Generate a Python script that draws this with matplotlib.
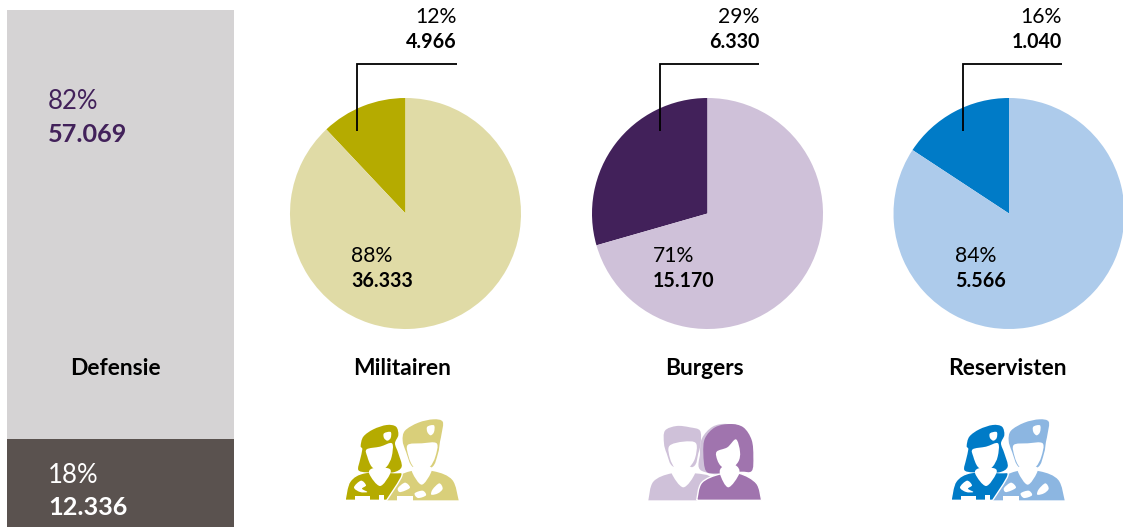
#!/usr/bin/env python3
import matplotlib
matplotlib.use("Agg")
import matplotlib.pyplot as plt
from matplotlib.path import Path
from matplotlib.patches import PathPatch, Rectangle

plt.rcParams['font.family'] = ['Lato', 'DejaVu Sans']

W, H = 1123, 527

# data
bar_values = [57069, 12336]
bar_pcts = ["82%", "18%"]
bar_label = "Defensie"

groups = ["Militairen", "Burgers", "Reservisten"]
outer_values = [4966, 6330, 1040]
inner_values = [36333, 15170, 5566]
outer_pcts = ["12%", "29%", "16%"]
inner_pcts = ["88%", "71%", "84%"]

outer_colors = ["#b5ab00", "#42215a", "#007bc7"]
inner_colors = ["#e0dba6", "#cfc1d9", "#adcbeb"]


def nl(v):
    return f"{v:,}".replace(",", ".")


def px_axes(fig, x0, y0, x1, y1):
    # axes placed with pixel coords, y counted from the top
    return fig.add_axes([x0 / W, 1 - y1 / H, (x1 - x0) / W, (y1 - y0) / H])


def blob(pts):
    # closed catmull-rom curve through the points, doubled points make a corner
    n = len(pts)
    verts = [pts[0]]
    codes = [Path.MOVETO]
    for i in range(n):
        p0, p1, p2, p3 = pts[i - 1], pts[i], pts[(i + 1) % n], pts[(i + 2) % n]
        if p1 == p2:
            continue
        c1 = (p1[0] + (p2[0] - p0[0]) / 6, p1[1] + (p2[1] - p0[1]) / 6)
        c2 = (p2[0] - (p3[0] - p1[0]) / 6, p2[1] - (p3[1] - p1[1]) / 6)
        verts += [c1, c2, p2]
        codes += [Path.CURVE4] * 3
    return Path(verts, codes)


def shape(ov, pts, color, ox, oy, z, edge="none"):
    # icon points are written in crop units, 3 units per pixel
    p = [(ox + a / 3, oy + b / 3) for a, b in pts]
    ov.add_patch(PathPatch(blob(p), fc=color, ec=edge, lw=1.0, zorder=z))


def box(ov, x, y, w, h, ox, oy):
    ov.add_patch(Rectangle((ox + x / 3, oy + y / 3), w / 3, h / 3, fc="white", ec="none", zorder=9))


def soldiers(ov, dark, light, ox, oy):
    # man at the back
    shape(ov, [(170, 271), (170, 271), (186, 214), (240, 184), (312, 184),
               (367, 210), (386, 271), (386, 271)], light, ox, oy, 3)
    shape(ov, [(218, 92), (225, 62), (265, 38), (310, 28), (338, 35), (335, 70), (330, 95),
               (324, 130), (305, 172), (250, 172), (228, 125)], light, ox, oy, 3)
    shape(ov, [(250, 170), (300, 170), (302, 190), (275, 224), (248, 190)], "white", ox, oy, 4)
    shape(ov, [(233, 105), (275, 100), (320, 100), (316, 140), (300, 170), (275, 183),
               (250, 170), (236, 140)], "white", ox, oy, 4)
    shape(ov, [(292, 50), (312, 46), (312, 66), (302, 76), (292, 66)], "white", ox, oy, 5)
    # woman in front
    shape(ov, [(45, 271), (45, 271), (60, 214), (105, 188), (190, 188), (216, 196),
               (170, 271), (170, 271)], dark, ox, oy, 6, edge="white")
    shape(ov, [(92, 108), (100, 80), (130, 58), (170, 45), (198, 50), (205, 75), (195, 100),
               (205, 130), (215, 170), (190, 187), (150, 185), (110, 187), (85, 180),
               (90, 150), (97, 118)], dark, ox, oy, 6)
    shape(ov, [(128, 175), (175, 175), (180, 192), (150, 228), (118, 192)], "white", ox, oy, 7)
    shape(ov, [(110, 118), (150, 110), (186, 100), (185, 140), (170, 170), (148, 182),
               (125, 170), (112, 140)], "white", ox, oy, 7)
    shape(ov, [(162, 70), (182, 66), (182, 84), (172, 92), (162, 84)], "white", ox, oy, 8)
    # badges and camouflage blotches
    box(ov, 75, 258, 45, 14, ox, oy)
    box(ov, 200, 258, 48, 14, ox, oy)
    box(ov, 148, 256, 14, 14, ox, oy)
    shape(ov, [(72, 232), (93, 212), (108, 226), (96, 236), (112, 246), (90, 246)], "white", ox, oy, 8)
    shape(ov, [(204, 234), (225, 218), (240, 232), (225, 242), (208, 246)], "white", ox, oy, 8)
    shape(ov, [(308, 238), (328, 220), (338, 236), (324, 250), (304, 254)], "white", ox, oy, 8)
    shape(ov, [(254, 250), (278, 242), (288, 256), (264, 264)], "white", ox, oy, 8)


def civilians(ov, dark, light, ox, oy):
    # man at the back
    shape(ov, [(25, 271), (25, 271), (40, 215), (95, 190), (165, 190), (215, 205),
               (215, 271), (215, 271)], light, ox, oy, 3)
    shape(ov, [(72, 100), (75, 62), (110, 48), (150, 52), (180, 62), (182, 100), (175, 130),
               (160, 170), (100, 170), (80, 130)], light, ox, oy, 3)
    shape(ov, [(105, 170), (150, 170), (165, 190), (130, 232), (95, 190)], "white", ox, oy, 4)
    shape(ov, [(88, 108), (130, 95), (168, 100), (165, 145), (145, 175), (125, 183),
               (105, 175), (90, 145)], "white", ox, oy, 4)
    # woman in front, with a light shadow on the left of her hair
    shape(ov, [(186, 183), (180, 130), (186, 85), (218, 50), (262, 42), (300, 60), (300, 185)],
          light, ox, oy, 5)
    shape(ov, [(170, 271), (170, 271), (185, 218), (240, 192), (298, 190), (350, 220),
               (365, 271), (365, 271)], dark, ox, oy, 6, edge="white")
    shape(ov, [(198, 183), (190, 130), (195, 85), (225, 52), (270, 42), (310, 52), (335, 90),
               (340, 140), (335, 183), (300, 185), (230, 190)], dark, ox, oy, 6)
    shape(ov, [(248, 170), (285, 165), (298, 190), (265, 232), (240, 192)], "white", ox, oy, 7)
    shape(ov, [(230, 125), (262, 112), (288, 88), (300, 125), (295, 155), (270, 178),
               (245, 170), (232, 150)], "white", ox, oy, 7)


fig = plt.figure(figsize=(W / 100, H / 100), dpi=100)

# stacked bar on the left, runs slightly past the bottom edge
ax_bar = px_axes(fig, 7, 10, 234, 532)
ax_bar.bar([0], [bar_values[1]], width=1, color="#5a524f")
ax_bar.bar([0], [bar_values[0]], width=1, bottom=[bar_values[1]], color="#d5d3d4")
ax_bar.set_xlim(-0.5, 0.5)
ax_bar.set_ylim(0, sum(bar_values))
ax_bar.axis("off")

# pies
centers = [405.5, 707.5, 1009]
radius = 115.5
for i, cx in enumerate(centers):
    ax = px_axes(fig, cx - radius, 213.5 - radius, cx + radius, 213.5 + radius)
    ax.pie([outer_values[i], inner_values[i]], colors=[outer_colors[i], inner_colors[i]],
           startangle=90, radius=1.0, wedgeprops={"linewidth": 0})
    ax.set_xlim(-1, 1)
    ax.set_ylim(-1, 1)

# overlay in pixel coords for text, leader lines and icons
ov = fig.add_axes([0, 0, 1, 1], facecolor="none")
ov.set_xlim(0, W)
ov.set_ylim(H, 0)
ov.axis("off")

pct = 15.2
num = 14.1
head = 16.4
ov.text(48, 109, bar_pcts[0], fontsize=18.5, color="#42215a")
ov.text(48, 142, nl(bar_values[0]), fontsize=18.2, fontweight="bold", color="#42215a")
ov.text(48, 483, bar_pcts[1], fontsize=18.5, color="white")
ov.text(48, 515, nl(bar_values[1]), fontsize=18.2, fontweight="bold", color="white")
ov.text(115.5, 375, bar_label, fontsize=head, fontweight="bold", color="black", ha="center")

line_x = [357, 660, 963]
line_end = [457, 759, 1062]
inner_x = [351, 653, 955]
title_x = [402, 704, 1007]
for i in range(3):
    ov.plot([line_end[i], line_x[i], line_x[i]], [64, 64, 131], color="black", lw=1.3,
            solid_joinstyle="miter", solid_capstyle="butt")
    ov.text(line_end[i], 23, outer_pcts[i], fontsize=pct, color="black", ha="right")
    ov.text(line_end[i], 48, nl(outer_values[i]), fontsize=num, fontweight="bold", color="black", ha="right")
    ov.text(inner_x[i], 262, inner_pcts[i], fontsize=pct, color="black")
    ov.text(inner_x[i], 287, nl(inner_values[i]), fontsize=num, fontweight="bold", color="black")
    ov.text(title_x[i], 375, groups[i], fontsize=head, fontweight="bold", color="black", ha="center")

# icons
soldiers(ov, "#b5ab00", "#d9cf7a", 330, 410)
civilians(ov, "#a074ae", "#cfc1d9", 640, 410)
soldiers(ov, "#007bc7", "#8cb6e1", 936, 410)

fig.savefig("out.png", dpi=100)
